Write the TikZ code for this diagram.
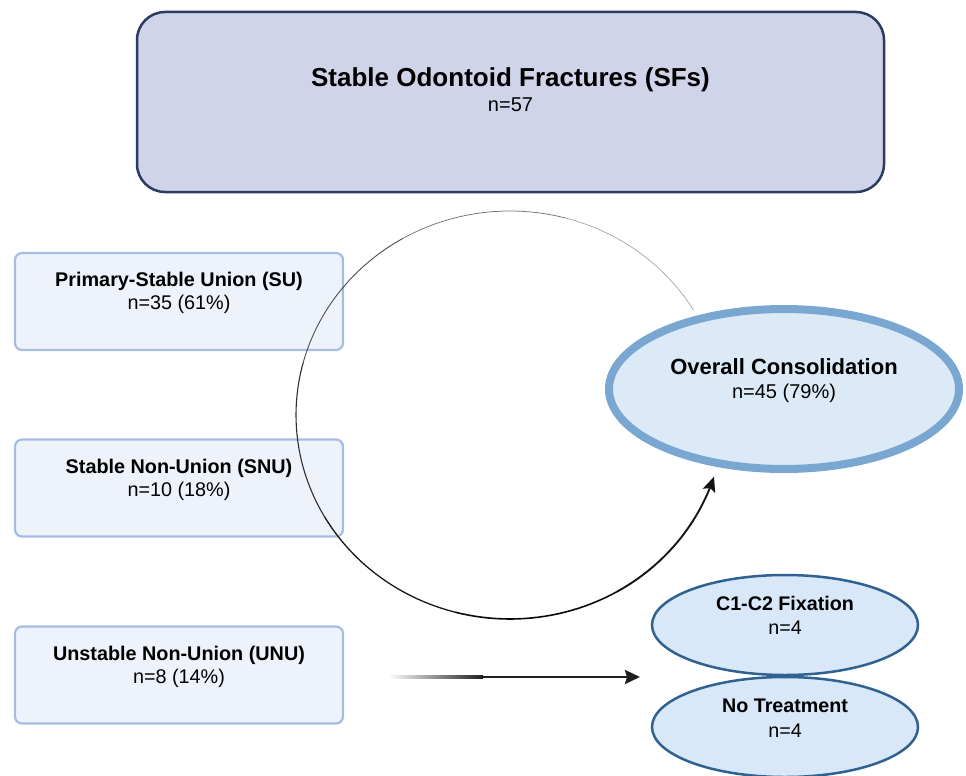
\documentclass[tikz,border=0pt]{standalone}
\usepackage{fontspec}
\setmainfont{Liberation Sans}
\usetikzlibrary{arrows.meta,shapes.geometric,calc}
\definecolor{topfill}{HTML}{CFD4E9}
\definecolor{topborder}{HTML}{2C3B63}
\definecolor{lfill}{HTML}{EEF3FB}
\definecolor{lborder}{HTML}{A5BDE3}
\definecolor{ovfill}{HTML}{DCEAF8}
\definecolor{ovborder}{HTML}{7AA7D2}
\definecolor{sfill}{HTML}{D9E8F8}
\definecolor{sborder}{HTML}{2F6191}
\tikzset{
  topbox/.style={draw=topborder, fill=topfill, line width=2.5pt, rounded corners=28pt,
    minimum width=747pt, minimum height=180pt, inner sep=0pt},
  leftbox/.style={draw=lborder, fill=lfill, line width=2.2pt, rounded corners=7pt,
    minimum width=328pt, minimum height=97pt, inner sep=0pt},
  bigell/.style={ellipse, draw=ovborder, fill=ovfill, line width=8pt,
    minimum width=350pt, minimum height=160pt, inner sep=0pt},
  smallell/.style={ellipse, draw=sborder, fill=sfill, line width=2.5pt,
    minimum width=266pt, minimum height=100pt, inner sep=0pt},
  txt/.style={anchor=base, align=center, inner sep=0pt},
}
\begin{document}
\begin{tikzpicture}[x=1pt,y=-1pt]
\useasboundingbox (0,0) rectangle (966,776);
\clip (0,0) rectangle (966,776);

% top box
\node[topbox] (sf) at (510.5,102) {};
\node[txt, font={\fontsize{20}{25}\selectfont}] (sf-t) at (510.5,111)
  {{\fontsize{26}{26}\selectfont\bfseries Stable Odontoid Fractures (SFs)}\\ n=57};

% left boxes
\node[leftbox] (su) at (179,301.5) {};
\node[txt, font={\fontsize{19.8}{23}\selectfont}] (su-t) at (179,309)
  {\textbf{Primary-Stable Union (SU)}\\ n=35 (61\%)};
\node[leftbox] (snu) at (179,488) {};
\node[txt, font={\fontsize{19.8}{23}\selectfont}] (snu-t) at (179,496)
  {\textbf{Stable Non-Union (SNU)}\\ n=10 (18\%)};
\node[leftbox] (unu) at (179,675) {};
\node[txt, font={\fontsize{19.8}{23}\selectfont}] (unu-t) at (179,683)
  {\textbf{Unstable Non-Union (UNU)}\\ n=8 (14\%)};

% overall consolidation
\node[bigell] (ov) at (784,389) {};
\node[txt, font={\fontsize{20}{24}\selectfont}] (ov-t) at (784,398)
  {{\fontsize{22}{24}\selectfont\bfseries Overall Consolidation}\\ n=45 (79\%)};

% treatment ellipses
\node[smallell] (fix) at (785,625) {};
\node[txt, font={\fontsize{19.7}{24}\selectfont}] (fix-t) at (785,634)
  {\textbf{C1-C2 Fixation}\\ n=4};
\node[smallell] (nt) at (785,727) {};
\node[txt, font={\fontsize{19.7}{25}\selectfont}] (nt-t) at (785,737)
  {\textbf{No Treatment}\\ n=4};

% loop arrow into overall consolidation
\coordinate (loop) at (510,415);
\foreach \a/\b/\w/\k in {31/75/0.6/40, 75/120/0.75/55, 120/165/0.9/70, 165/210/1.1/82,
                         210/255/1.3/90, 255/300/1.6/96}{
  \draw[shift={(loop)}, line width=\w pt, black!\k]
    plot[domain=\a:\b, samples=25, variable=\t] ({214*cos(\t)},{-204*sin(\t)});
}
\draw[shift={(loop)}, line width=1.9pt, black!92,
      -{Stealth[length=15pt,width=13pt,inset=3pt]}]
  plot[domain=300:342.4, samples=25, variable=\t] ({214*cos(\t)},{-204*sin(\t)});

% UNU arrow
\coordinate (unu-o) at (388,677);
\coordinate (tr-in) at (640,677);
\shade[left color=white, right color=black!88]
  ($(unu-o)+(0,-1.3)$) rectangle ($(unu-o)+(95,1.3)$);
\draw[line width=2.6pt, black!88, -{Stealth[length=15pt,width=14pt,inset=2pt]}]
  ($(unu-o)+(94,0)$) -- (tr-in);
\end{tikzpicture}
\end{document}
